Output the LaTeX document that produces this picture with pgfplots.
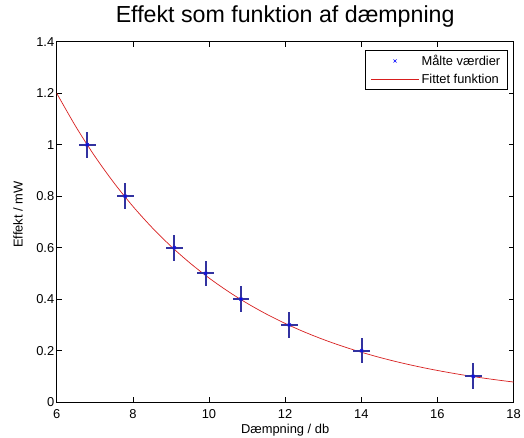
\documentclass[border=0pt]{standalone}
\usepackage{fontspec}
\setmainfont{Liberation Sans}
\usepackage{pgfplots}
\pgfplotsset{compat=1.18}
\definecolor{barblue}{RGB}{50,50,160}
\definecolor{fitred}{RGB}{215,30,30}

\begin{document}
\begin{tikzpicture}[x=1bp,y=1bp]
% fixes the page: 524 x 440 bp, axis box at 57..516 / 36..398
\path (-57,-36) rectangle (467,404);
\begin{axis}[
    scale only axis, width=459bp, height=362bp,
    xmin=6, xmax=18, ymin=0, ymax=1.4,
    xtick={6,8,...,18}, ytick={0,0.2,...,1.4},
    tick align=inside, major tick length=5bp,
    axis line style={line width=0.6bp},
    every tick/.style={black, line width=0.6bp},
    /pgf/number format/assume math mode=true,
    /pgf/number format/fixed,
    tick label style={font=\fontsize{13}{14}\selectfont},
    xticklabel style={yshift=-4bp},
    yticklabel style={xshift=1bp},
    title={Effekt som funktion af dæmpning},
    title style={font=\fontsize{23.4}{25}\selectfont, at={(axis description cs:0.5,1)},
                 anchor=base, yshift=13bp, inner sep=0pt},
    xlabel={Dæmpning / db},
    xlabel style={font=\fontsize{13}{14}\selectfont, at={(axis description cs:0.5,0)},
                  anchor=base, yshift=-32bp, inner sep=0pt},
    ylabel={Effekt / mW},
    ylabel style={font=\fontsize{13}{14}\selectfont,
                  at={(axis description cs:-0.085,0.52)}, anchor=center, inner sep=0pt},
    legend style={at={(1,1)}, anchor=north east, xshift=-6bp, yshift=-8bp,
                  font=\fontsize{13}{14}\selectfont, line width=0.6bp,
                  inner xsep=5bp, inner ysep=3bp, row sep=3bp},
    legend cell align=left,
]
\addlegendimage{legend image code/.code={
  \draw[color=blue, draw=blue, line width=0.5bp] plot[mark=x, mark size=2.2bp] coordinates {(24bp,0bp)};}}
\addlegendimage{legend image code/.code={
  \pgfsetstrokecolor{fitred}\pgfsetlinewidth{1.2bp}%
  \pgfpathmoveto{\pgfqpoint{0bp}{0bp}}\pgfpathlineto{\pgfqpoint{48bp}{0bp}}%
  \pgfusepath{stroke}}}

% fitted curve
\addplot[fitred, line width=0.7bp, smooth, forget plot] coordinates {
  (6,1.2000) (6.5,1.0708) (7,0.9554) (7.5,0.8526) (8,0.7607) (8.5,0.6787)
  (9,0.6056) (9.5,0.5404) (10,0.4822) (10.5,0.4302) (11,0.3839) (11.5,0.3425)
  (12,0.3056) (12.5,0.2727) (13,0.2433) (13.5,0.2171) (14,0.1937) (14.5,0.1728)
  (15,0.1542) (15.5,0.1376) (16,0.1228) (16.5,0.1096) (17,0.0977) (17.5,0.0872)
  (18,0.0778)
};

% measured values with error bars
\addplot[draw=none, forget plot, mark=none,
    error bars/.cd, x dir=both, x explicit, y dir=both, y explicit,
    error mark=none, error bar style={barblue, line width=1.9bp}]
  coordinates {
  (6.80,1.0) +- (0.22,0.05)
  (7.80,0.8) +- (0.22,0.05)
  (9.09,0.6) +- (0.22,0.05)
  (9.91,0.5) +- (0.22,0.05)
  (10.84,0.4) +- (0.22,0.05)
  (12.11,0.3) +- (0.22,0.05)
  (14.01,0.2) +- (0.22,0.05)
  (16.94,0.1) +- (0.22,0.05)
};
\addplot[only marks, mark=x, blue, mark size=2.2bp, line width=0.6bp, forget plot]
  coordinates {
  (6.80,1.0) (7.80,0.8) (9.09,0.6) (9.91,0.5) (10.84,0.4)
  (12.11,0.3) (14.01,0.2) (16.94,0.1)
};
\legend{Målte værdier, Fittet funktion}
\end{axis}
\end{tikzpicture}
\end{document}
